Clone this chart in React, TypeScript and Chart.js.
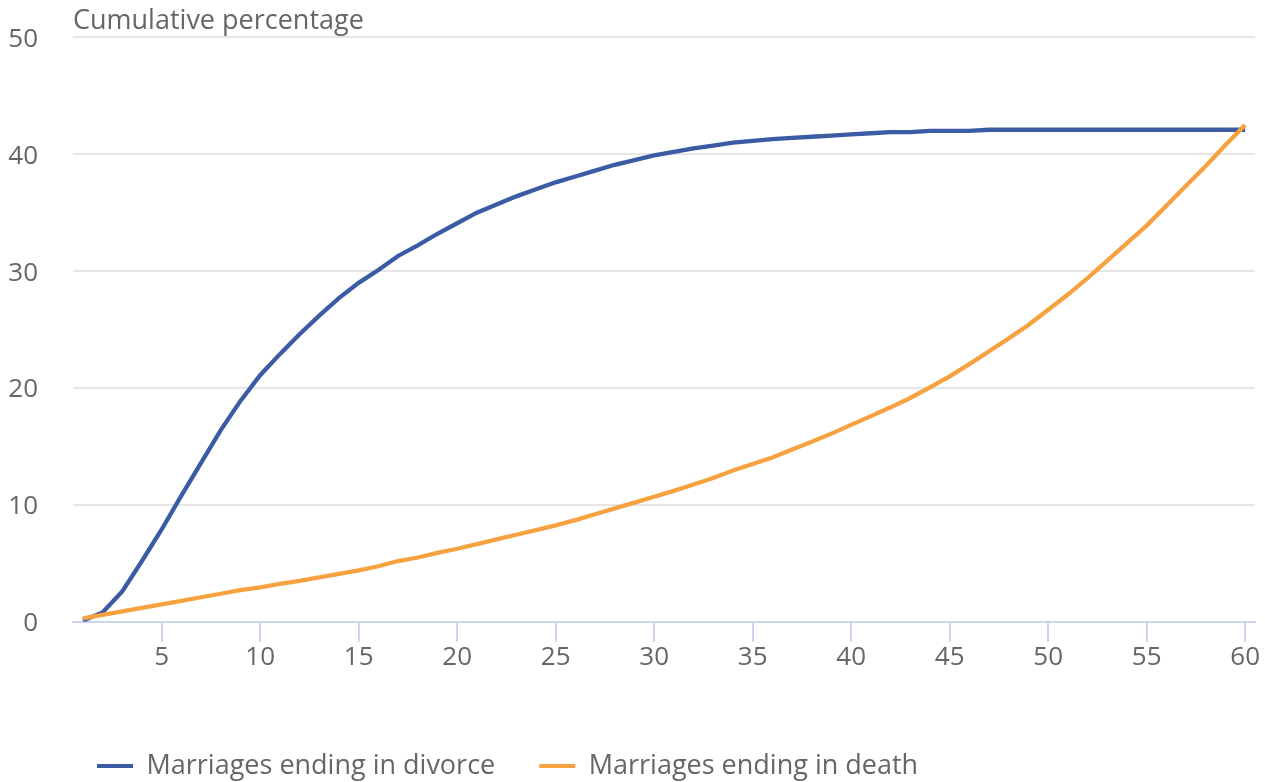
import React, { useEffect, useRef } from "react";
import { Chart, registerables } from "chart.js";

Chart.register(...registerables);

const years = [
  1, 2, 3, 4, 5, 6, 7, 8, 9, 10,
  11, 12, 13, 14, 15, 16, 17, 18, 19, 20,
  21, 22, 23, 24, 25, 26, 27, 28, 29, 30,
  31, 32, 33, 34, 35, 36, 37, 38, 39, 40,
  41, 42, 43, 44, 45, 46, 47, 48, 49, 50,
  51, 52, 53, 54, 55, 56, 57, 58, 59, 60,
];

const divorce = [
  0.1, 0.8, 2.6, 5.2, 7.9, 10.8, 13.6, 16.4, 18.9, 21.1,
  22.9, 24.6, 26.2, 27.7, 29.0, 30.1, 31.3, 32.2, 33.2, 34.1,
  35.0, 35.7, 36.4, 37.0, 37.6, 38.1, 38.6, 39.1, 39.5, 39.9,
  40.2, 40.5, 40.75, 41.0, 41.15, 41.3, 41.4, 41.5, 41.6, 41.7,
  41.8, 41.9, 41.9, 42.0, 42.0, 42.0, 42.1, 42.1, 42.1, 42.1,
  42.1, 42.1, 42.1, 42.1, 42.1, 42.1, 42.1, 42.1, 42.1, 42.1,
];

const death = [
  0.3, 0.6, 0.9, 1.2, 1.5, 1.8, 2.1, 2.4, 2.7, 2.95,
  3.25, 3.5, 3.8, 4.1, 4.4, 4.75, 5.2, 5.5, 5.9, 6.25,
  6.65, 7.05, 7.45, 7.85, 8.25, 8.7, 9.2, 9.7, 10.2, 10.7,
  11.2, 11.75, 12.3, 12.95, 13.5, 14.05, 14.75, 15.4, 16.1, 16.85,
  17.6, 18.35, 19.15, 20.05, 21.0, 22.05, 23.15, 24.25, 25.4, 26.7,
  28.0, 29.4, 30.9, 32.4, 33.9, 35.6, 37.3, 39.0, 40.8, 42.5,
];

const xTicks = [5, 10, 15, 20, 25, 30, 35, 40, 45, 50, 55, 60];
const yTicks = [0, 10, 20, 30, 40, 50];

const seriesNames = ["Marriages ending in divorce", "Marriages ending in death"];
const titleText = "Cumulative percentage";

const BLUE = "#3B5BA5";
const ORANGE = "#F7A241";
const TEXT = "#666666";
const FONT = '"Open Sans", sans-serif';

const shiftPlugin = {
  id: "shiftBlocks",
  afterLayout(chart: any) {
    const area = chart.chartArea;
    const tb = chart.titleBlock;
    if (tb && area) {
      const w = tb.right - tb.left;
      tb.left = area.left;
      tb.right = area.left + w;
    }
    const lg = chart.legend;
    if (lg) {
      const h = lg.bottom - lg.top;
      lg.left = 53;
      lg.top = 708.5;
      lg.bottom = lg.top + h;
    }
  },
};

export default function App() {
  const ref = useRef<HTMLCanvasElement | null>(null);

  useEffect(() => {
    if (!ref.current) return;
    const chart = new Chart(ref.current, {
      type: "line",
      data: {
        datasets: [
          {
            label: seriesNames[0],
            data: years.map((x, i) => ({ x, y: divorce[i] })),
            borderColor: BLUE,
            backgroundColor: BLUE,
            borderWidth: 4.3,
            pointRadius: 0,
            tension: 0,
            fill: false,
            order: 1,
          },
          {
            label: seriesNames[1],
            data: years.map((x, i) => ({ x, y: death[i] })),
            borderColor: ORANGE,
            backgroundColor: ORANGE,
            borderWidth: 4.3,
            pointRadius: 0,
            tension: 0,
            fill: false,
            order: 0,
          },
        ],
      },
      options: {
        animation: false,
        responsive: true,
        maintainAspectRatio: false,
        layout: { padding: { left: 0, right: 10, top: 0, bottom: 28 } },
        font: { family: FONT },
        scales: {
          x: {
            type: "linear",
            min: 0.5,
            max: 60.5,
            afterBuildTicks: (scale: any) => {
              scale.ticks = xTicks.map((v) => ({ value: v }));
            },
            grid: {
              display: true,
              drawOnChartArea: false,
              drawTicks: true,
              tickLength: 20,
              color: "#ccd6eb",
              lineWidth: 2,
            },
            border: { display: true, color: "#ccd6eb", width: 2 },
            ticks: {
              color: TEXT,
              font: { family: FONT, size: 26 },
              padding: 0,
              maxRotation: 0,
              autoSkip: false,
              callback: (v: any) => String(v),
            },
          },
          y: {
            min: 0,
            max: 50,
            afterBuildTicks: (scale: any) => {
              scale.ticks = yTicks.map((v) => ({ value: v }));
            },
            afterFit: (scale: any) => {
              scale.width = 73;
              scale.paddingTop = 0;
              scale.paddingBottom = 0;
            },
            grid: {
              color: "#e6e6e6",
              lineWidth: 2,
              drawTicks: false,
            },
            border: { display: false },
            ticks: {
              color: TEXT,
              font: { family: FONT, size: 26 },
              padding: 35,
              labelOffset: 2,
              callback: (v: any) => String(v),
            },
          },
        },
        plugins: {
          title: {
            display: true,
            text: titleText,
            align: "start",
            color: TEXT,
            font: { family: FONT, size: 27, weight: "normal" },
            padding: { top: 5, bottom: 0 },
          },
          legend: {
            display: true,
            position: "bottom",
            align: "start",
            labels: {
              boxWidth: 36,
              boxHeight: 4,
              padding: 44,
              color: TEXT,
              font: { family: FONT, size: 27 },
              sort: (a: any, b: any) => a.datasetIndex - b.datasetIndex,
              generateLabels: (c: any) =>
                Chart.defaults.plugins.legend.labels
                  .generateLabels(c)
                  .map((l: any) => ({ ...l, lineWidth: 0, fillStyle: l.strokeStyle })),
            },
          },
          tooltip: { enabled: false },
        },
      },
      plugins: [shiftPlugin],
    } as any);
    return () => chart.destroy();
  }, []);

  return (
    <div style={{ position: "absolute", left: 0, top: 0, width: 1265, height: 782 }}>
      <canvas ref={ref} />
    </div>
  );
}
